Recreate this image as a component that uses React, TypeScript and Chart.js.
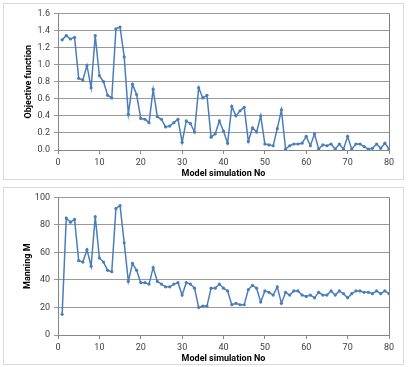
import React, { useEffect, useRef } from "react";
import { Chart, registerables } from "chart.js";

Chart.register(...registerables);

const simulationNo: number[] = Array.from({ length: 80 }, (_, i) => i + 1);

const objectiveValues: number[] = [
  1.29, 1.34, 1.3, 1.32, 0.84, 0.82, 0.99, 0.73, 1.34, 0.87,
  0.8, 0.64, 0.61, 1.42, 1.44, 1.09, 0.42, 0.77, 0.65, 0.37,
  0.36, 0.32, 0.71, 0.39, 0.36, 0.27, 0.28, 0.32, 0.36, 0.09,
  0.34, 0.31, 0.21, 0.73, 0.61, 0.64, 0.15, 0.19, 0.34, 0.22,
  0.08, 0.51, 0.4, 0.46, 0.5, 0.1, 0.26, 0.21, 0.4, 0.07,
  0.06, 0.05, 0.25, 0.47, 0.01, 0.05, 0.07, 0.07, 0.08, 0.16,
  0.05, 0.19, 0.01, 0.06, 0.05, 0.07, 0.01, 0.07, 0.01, 0.16,
  0.01, 0.07, 0.07, 0.04, 0.01, 0.02, 0.07, 0.02, 0.08, 0.01,
];

const manningValues: number[] = [
  15, 85, 82, 84, 54, 53, 62, 50, 86, 56,
  53, 47, 46, 92, 94, 67, 39, 52, 47, 38,
  38, 37, 49, 39, 37, 35, 35, 37, 38, 29,
  38, 37, 34, 20, 21, 21, 34, 34, 37, 34,
  32, 22, 23, 22, 22, 33, 36, 34, 24, 32,
  31, 29, 35, 23, 31, 29, 32, 32, 29, 28,
  29, 27, 31, 29, 29, 32, 29, 32, 30, 27,
  30, 32, 32, 31, 31, 30, 32, 30, 32, 30,
];

const xTitle = "Model simulation No";
const topYTitle = "Objective function";
const bottomYTitle = "Manning M";

const FONT = "'Liberation Sans Narrow', 'Roboto', 'Liberation Sans', sans-serif";
const LINE = "#4a7ebb";

const plotBorder = {
  id: "plotBorder",
  afterDraw(chart: any) {
    const { ctx, chartArea } = chart;
    ctx.save();
    ctx.strokeStyle = "#7f7f7f";
    ctx.lineWidth = 1;
    ctx.beginPath();
    ctx.moveTo(Math.round(chartArea.right) + 0.5, chartArea.top);
    ctx.lineTo(Math.round(chartArea.right) + 0.5, chartArea.bottom);
    ctx.stroke();
    ctx.restore();
  },
};

function LineChart(props: {
  values: number[];
  yMax: number;
  yStep: number;
  yTitle: string;
  decimals: number;
  width: number;
  height: number;
  padTop: number;
  titleOffset: number;
}) {
  const ref = useRef<HTMLCanvasElement | null>(null);
  useEffect(() => {
    if (!ref.current) return;
    const chart = new Chart(ref.current, {
      type: "line",
      data: {
        datasets: [
          {
            data: simulationNo.map((x, i) => ({ x, y: props.values[i] })),
            borderColor: LINE,
            backgroundColor: LINE,
            borderWidth: 1.5,
            pointRadius: 1.6,
            pointBorderWidth: 0,
            pointBackgroundColor: LINE,
            tension: 0,
          },
        ],
      },
      options: {
        animation: false,
        responsive: false,
        layout: { padding: { left: 0, right: 14, top: props.padTop, bottom: 0 } },
        plugins: { legend: { display: false }, tooltip: { enabled: false } },
        scales: {
          x: {
            type: "linear",
            min: 0,
            max: 80,
            ticks: { stepSize: 10, color: "#404040", font: { family: FONT, size: 9 }, padding: 3 },
            grid: { drawOnChartArea: false, drawTicks: true, tickLength: 4, color: "#868686" },
            border: { color: "#868686" },
            title: {
              display: true,
              text: xTitle,
              color: "#000",
              font: { family: FONT, size: 9, weight: "bold" },
              padding: { top: 0, bottom: 0 },
            },
            afterFit(scale: any) {
              scale.height = 29;
            },
          },
          y: {
            min: 0,
            max: props.yMax,
            ticks: {
              stepSize: props.yStep,
              color: "#404040",
              font: { family: FONT, size: 9 },
              padding: 4,
              callback: (v: any) => Number(v).toFixed(props.decimals),
            },
            grid: { color: "#999999", tickLength: 4, lineWidth: 1 },
            border: { color: "#868686" },
            title: {
              display: true,
              text: props.yTitle,
              color: "#000",
              font: { family: FONT, size: 9, weight: "bold" },
              padding: { top: props.titleOffset, bottom: 0 },
            },
            afterFit(scale: any) {
              scale.width = 54;
            },
          },
        },
      },
      plugins: [plotBorder],
    });
    return () => chart.destroy();
  }, []);
  return (
    <canvas
      ref={ref}
      width={props.width}
      height={props.height}
      style={{ position: "absolute", left: 0, top: 0, width: props.width, height: props.height }}
    />
  );
}

export default function App() {
  const box: React.CSSProperties = {
    position: "absolute",
    left: 3,
    width: 401,
    border: "1px solid #d9d9d9",
    boxSizing: "border-box",
    background: "#fff",
  };
  return (
    <div style={{ position: "fixed", left: 0, top: 0, width: 413, height: 367, background: "#fff" }}>
      <div style={{ ...box, top: 3, height: 177 }}>
        <LineChart values={objectiveValues} yMax={1.6} yStep={0.2} yTitle={topYTitle} decimals={1} width={399} height={175} padTop={7} titleOffset={19} />
      </div>
      <div style={{ ...box, top: 187, height: 178 }}>
        <LineChart values={manningValues} yMax={100} yStep={10} yTitle={bottomYTitle} decimals={0} width={399} height={176} padTop={8} titleOffset={18} />
      </div>
    </div>
  );
}
